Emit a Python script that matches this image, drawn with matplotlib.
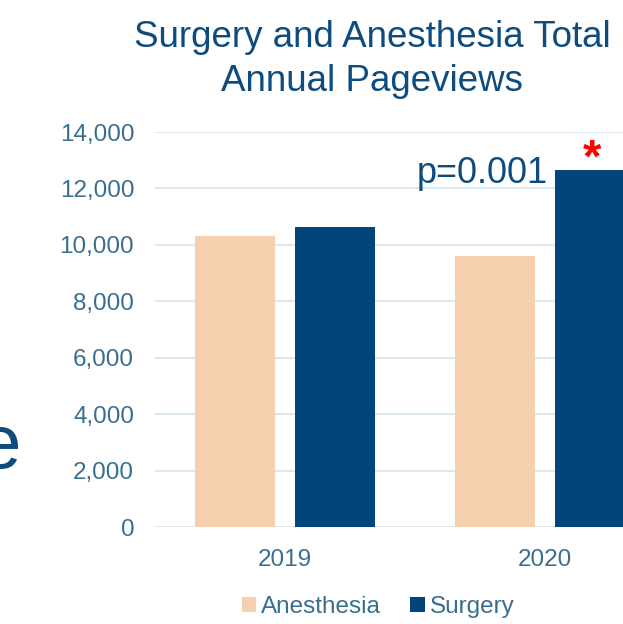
import matplotlib
matplotlib.use("Agg")
import matplotlib.pyplot as plt
import numpy as np
from matplotlib.ticker import FuncFormatter

plt.rcParams["font.family"] = ["Liberation Sans", "DejaVu Sans"]

years = ["2019", "2020"]
anesthesia = [10300, 9600]
surgery = [10650, 12650]
series_names = ["Anesthesia", "Surgery"]
title_lines = ["Surgery and Anesthesia Total", "Annual Pageviews"]

ANES_COLOR = "#F6CFAE"
SURG_COLOR = "#03457A"
TEXT_BLUE = "#0F4C7E"
TICK_COLOR = "#3A6E8E"
GRID_COLOR = "#DCE8F1"

W, H = 623, 624
fig = plt.figure(figsize=(W / 100, H / 100), dpi=100)
# axes spills past the right edge, like the cropped slide
ax = fig.add_axes([155 / W, 1 - 527 / H, 520 / W, 395 / H])

x = np.arange(len(years))
bw = 80 / 260
off = 50 / 260
ax.bar(x - off, anesthesia, bw, color=ANES_COLOR, label=series_names[0], zorder=2)
ax.bar(x + off, surgery, bw, color=SURG_COLOR, label=series_names[1], zorder=2)

ax.set_xlim(-0.5, 1.5)
ax.set_ylim(0, 14000)
ax.set_yticks(np.arange(0, 14001, 2000))
ax.yaxis.set_major_formatter(FuncFormatter(lambda v, _: f"{int(v):,}"))
ax.set_xticks(x)
ax.set_xticklabels(years)
ax.tick_params(axis="both", length=0, labelsize=17.5, labelcolor=TICK_COLOR)
ax.tick_params(axis="y", pad=15)
ax.tick_params(axis="x", pad=16)
ax.grid(axis="y", color=GRID_COLOR, linewidth=1.5, zorder=0)
for s in ax.spines.values():
    s.set_visible(False)

# p-value annotation and star over the 2020 surgery bar
bar_left = x[1] + off - bw / 2
ax.text(bar_left - 7 / 260, 12200, "p=0.001", ha="right", va="baseline",
        fontsize=26, color=TEXT_BLUE, clip_on=False)
ax.text(bar_left + 37 / 260, 12600, "*", ha="center", va="baseline",
        fontsize=34, color="#FF0000", fontweight="bold", clip_on=False)

fig.text(372 / W, 1 - 47 / H, title_lines[0], ha="center", va="baseline",
         fontsize=26.5, color=TEXT_BLUE)
fig.text(372 / W, 1 - 91 / H, title_lines[1], ha="center", va="baseline",
         fontsize=26.5, color=TEXT_BLUE)

# cut-off letter from the neighbouring slide text
fig.text(21 / W, 1 - 468 / H, "e", ha="right", va="baseline", fontsize=55, color=TEXT_BLUE)

fig.legend(loc="center", bbox_to_anchor=(378 / W, 1 - 607 / H), ncol=2, frameon=False,
           fontsize=17.5, handlelength=0.6, handleheight=0.6, handletextpad=0.2,
           columnspacing=1.2, labelcolor=TICK_COLOR)

fig.savefig("out.png", dpi=100)
